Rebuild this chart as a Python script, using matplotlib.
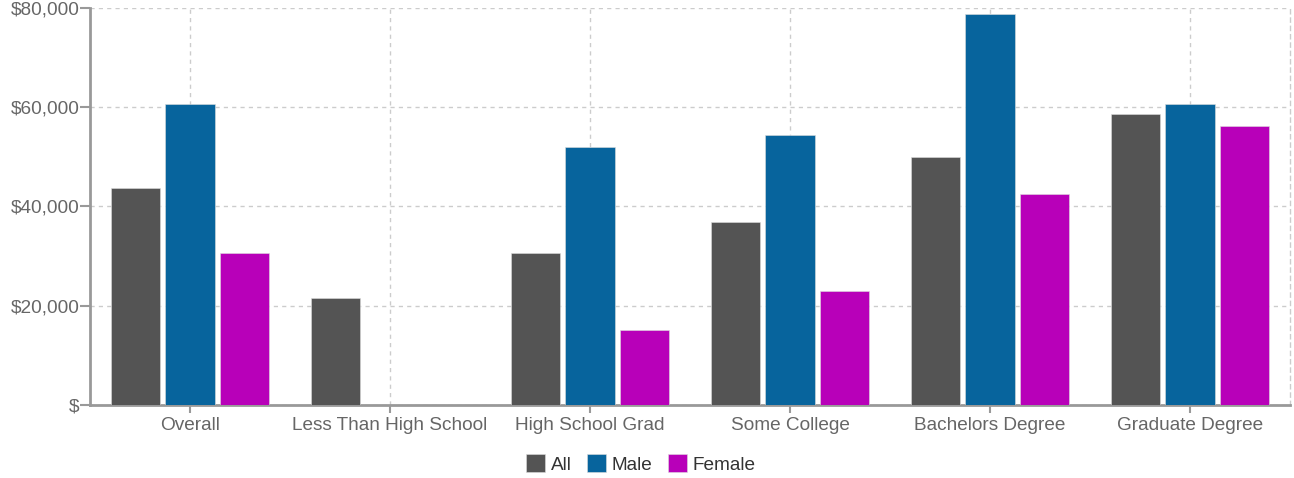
import numpy as np
import matplotlib
matplotlib.use("Agg")
import matplotlib.pyplot as plt
from matplotlib.ticker import FuncFormatter

# data
categories = ["Overall", "Less Than High School", "High School Grad",
              "Some College", "Bachelors Degree", "Graduate Degree"]
all_vals = [43800, 21600, 30700, 36800, 49900, 58700]
male_vals = [60600, np.nan, 51900, 54400, 78700, 60600]
female_vals = [30700, np.nan, 15150, 23000, 42450, 56200]
series_names = ["All", "Male", "Female"]
colors = ["#545454", "#07649d", "#b800b9"]

plt.rcParams["font.family"] = ["Liberation Sans", "DejaVu Sans"]

fig = plt.figure(figsize=(12.94, 4.78), dpi=100)
ax = fig.add_axes([90 / 1294, 1 - 405 / 478, 1200 / 1294, 397 / 478])

x = np.arange(len(categories))
width = 0.248
offset = 0.273
for i, (vals, name, col) in enumerate(zip([all_vals, male_vals, female_vals], series_names, colors)):
    ax.bar(x + (i - 1) * offset, vals, width, color=col, label=name,
           edgecolor="#dddddd", linewidth=0.4, zorder=3)

ax.set_xlim(-0.5, len(categories) - 0.5)
ax.set_ylim(0, 80000)
ax.set_yticks([0, 20000, 40000, 60000, 80000])
ax.yaxis.set_major_formatter(FuncFormatter(lambda v, p: "$" if v == 0 else f"${v:,.0f}"))
ax.set_xticks(x)
ax.set_xticklabels(categories)

ax.grid(True, color="#cccccc", linestyle=(0, (3, 3)), linewidth=1, zorder=0)
ax.set_axisbelow(True)

for s in ["left", "bottom"]:
    ax.spines[s].set_color("#999999")
    ax.spines[s].set_linewidth(2)
ax.spines["top"].set_visible(False)
ax.spines["right"].set_color("#cccccc")
ax.spines["right"].set_linestyle((0, (3, 3)))
ax.spines["right"].set_linewidth(1)

ax.tick_params(axis="both", colors="#999999", labelcolor="#666666", labelsize=13.7,
               width=1.5)
ax.tick_params(axis="y", length=7, pad=0.5)
ax.tick_params(axis="x", length=6, pad=3)

leg = fig.legend(loc="center", bbox_to_anchor=(641 / 1294, 1 - 464 / 478), ncol=3, frameon=False,
                 fontsize=13.7, handlelength=1.0, handleheight=1.0, handletextpad=0.3,
                 columnspacing=0.8)
for t in leg.get_texts():
    t.set_color("#333333")

fig.savefig("out.png", dpi=100)
